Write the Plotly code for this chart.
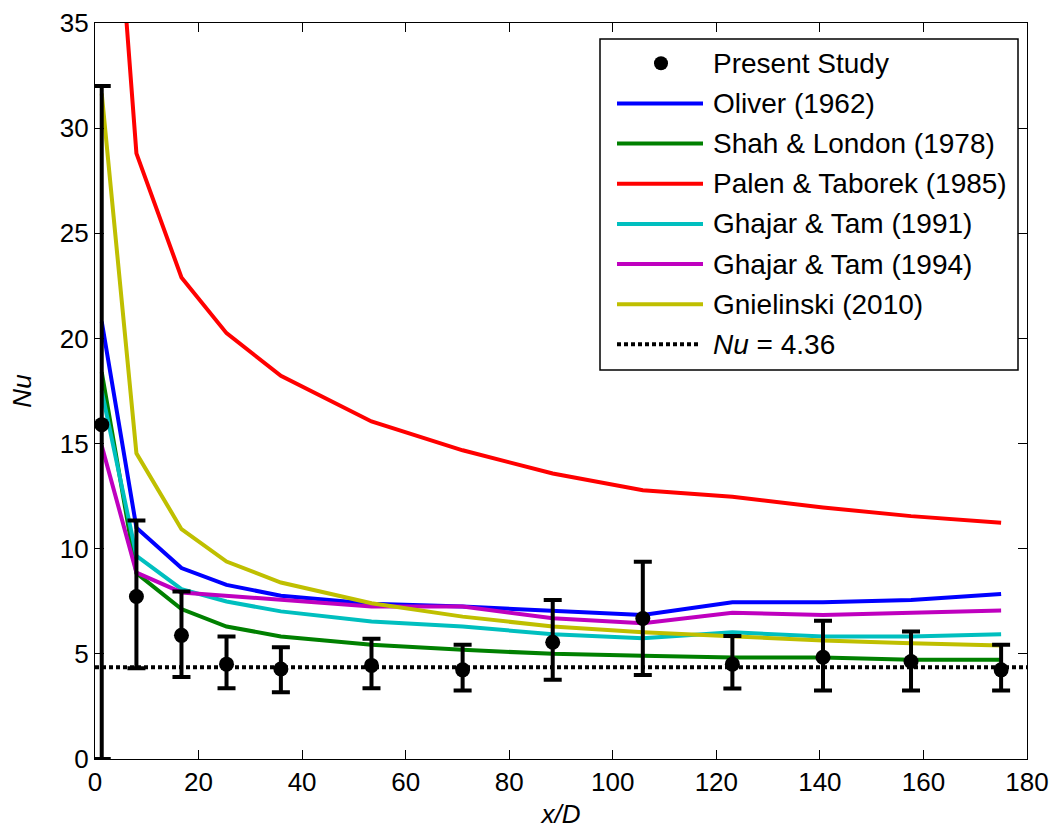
import plotly.graph_objects as go

# Axial positions (x/D) of the measurement stations
x_over_d = [1.3, 8.0, 16.7, 25.4, 35.9, 53.4, 71.0, 88.4, 105.8, 123.1, 140.6, 157.6, 175.0]

# Measured Nusselt numbers with upper / lower uncertainty bounds
nu_measured = [15.9, 7.73, 5.88, 4.51, 4.28, 4.45, 4.24, 5.55, 6.68, 4.51, 4.84, 4.64, 4.24]
nu_upper = [32.0, 11.34, 7.97, 5.83, 5.31, 5.72, 5.43, 7.56, 9.38, 5.85, 6.58, 6.06, 5.43]
nu_lower = [0.0, 4.32, 3.90, 3.37, 3.17, 3.37, 3.26, 3.77, 3.99, 3.35, 3.26, 3.26, 3.26]

# Correlation predictions at the same stations
nu_oliver = [20.8, 11.0, 9.08, 8.28, 7.76, 7.38, 7.25, 7.06, 6.85, 7.45, 7.45, 7.56, 7.85]
nu_shah = [18.4, 8.84, 7.13, 6.30, 5.83, 5.43, 5.19, 5.00, 4.91, 4.83, 4.83, 4.72, 4.72]
nu_palen = [50.7, 28.8, 22.9, 20.25, 18.22, 16.05, 14.68, 13.58, 12.78, 12.47, 11.96, 11.55, 11.23]
nu_ghajar91 = [17.5, 9.66, 8.08, 7.49, 7.02, 6.54, 6.30, 5.93, 5.74, 6.03, 5.82, 5.82, 5.93]
nu_ghajar94 = [14.9, 8.87, 7.92, 7.76, 7.57, 7.25, 7.25, 6.69, 6.46, 6.96, 6.85, 6.96, 7.06]
nu_gnielinski = [31.65, 14.54, 10.93, 9.39, 8.39, 7.41, 6.77, 6.30, 6.03, 5.82, 5.63, 5.51, 5.40]

# Fully developed laminar value (constant heat flux)
nu_fd = 4.36
x_range = [0, 180]

correlations = [
    ("Oliver (1962)", nu_oliver, "#0000FF"),
    ("Shah &amp; London (1978)", nu_shah, "#008000"),
    ("Palen &amp; Taborek (1985)", nu_palen, "#FF0000"),
    ("Ghajar &amp; Tam (1991)", nu_ghajar91, "#00BFBF"),
    ("Ghajar &amp; Tam (1994)", nu_ghajar94, "#BF00BF"),
    ("Gnielinski (2010)", nu_gnielinski, "#BFBF00"),
]

FONT = "Liberation Sans, Arial, Helvetica, sans-serif"
LINE_W = 4

fig = go.Figure()

for name, vals, color in correlations:
    fig.add_trace(go.Scatter(
        x=x_over_d, y=vals, mode="lines", name=name,
        line=dict(color=color, width=LINE_W), showlegend=False,
    ))

fig.add_trace(go.Scatter(
    x=x_range, y=[nu_fd, nu_fd], mode="lines", name="Nu = 4.36",
    line=dict(color="black", width=4, dash="4px,3px"), showlegend=False,
))

err_plus = [u - m for u, m in zip(nu_upper, nu_measured)]
err_minus = [m - l for m, l in zip(nu_measured, nu_lower)]
fig.add_trace(go.Scatter(
    x=x_over_d, y=nu_measured, mode="markers", name="Present Study",
    marker=dict(color="black", size=15),
    error_y=dict(type="data", symmetric=False, array=err_plus, arrayminus=err_minus,
                 color="black", thickness=4, width=9),
    showlegend=False,
))

# Plot area in pixels (margins below), used to place the legend box
PL, PR, PT, PB = 95, 1027, 23, 759


def px_x(px):
    return (px - PL) / (PR - PL)


def px_y(py):
    return (PB - py) / (PB - PT)


shapes = []
annotations = []

# Legend frame
shapes.append(dict(type="rect", xref="paper", yref="paper",
                   x0=px_x(600), x1=px_x(1018), y0=px_y(370), y1=px_y(39),
                   line=dict(color="black", width=1.5), fillcolor="white", layer="above"))

legend_rows = [("Present Study", "marker", "black")]
legend_rows += [(n, "line", c) for n, _, c in correlations]
legend_rows += [("<i>Nu</i> = 4.36", "dot", "black")]

row_top, row_step = 63.3, 40.15
for i, (label, kind, color) in enumerate(legend_rows):
    yc = px_y(row_top + i * row_step)
    if kind == "marker":
        shapes.append(dict(type="circle", xref="paper", yref="paper",
                           xsizemode="pixel", ysizemode="pixel",
                           xanchor=px_x(661), yanchor=yc,
                           x0=-7, x1=7, y0=-7, y1=7,
                           fillcolor="black", line=dict(color="black", width=0), layer="above"))
    else:
        shapes.append(dict(type="line", xref="paper", yref="paper",
                           x0=px_x(617), x1=px_x(703 if kind == "line" else 700), y0=yc, y1=yc,
                           line=dict(color=color, width=4,
                                     dash="solid" if kind == "line" else "4px,3px"),
                           layer="above"))
    annotations.append(dict(xref="paper", yref="paper", x=px_x(711), y=yc,
                            text=label, showarrow=False, xanchor="left", yanchor="middle",
                            font=dict(family=FONT, size=28, color="black")))

axis_common = dict(
    showline=True, linecolor="black", linewidth=1.2, mirror="ticks",
    ticks="inside", ticklen=9, tickwidth=1, tickcolor="black",
    showgrid=False, zeroline=False, automargin=False,
    tickfont=dict(family=FONT, size=26, color="black"),
)

fig.update_layout(
    width=1056, height=829,
    margin=dict(l=PL, r=1056 - PR, t=PT, b=829 - PB),
    paper_bgcolor="white", plot_bgcolor="white",
    showlegend=False,
    xaxis=dict(range=x_range, dtick=20, tick0=0,
               title=dict(text="<i>x/D</i>", font=dict(family=FONT, size=26, color="black"),
                          standoff=12),
               **axis_common),
    yaxis=dict(range=[0, 35], dtick=5, tick0=0,
               title=dict(text="<i>Nu</i>", font=dict(family=FONT, size=26, color="black"),
                          standoff=20),
               **axis_common),
    shapes=shapes,
    annotations=annotations,
)

fig.write_html("out.html")
